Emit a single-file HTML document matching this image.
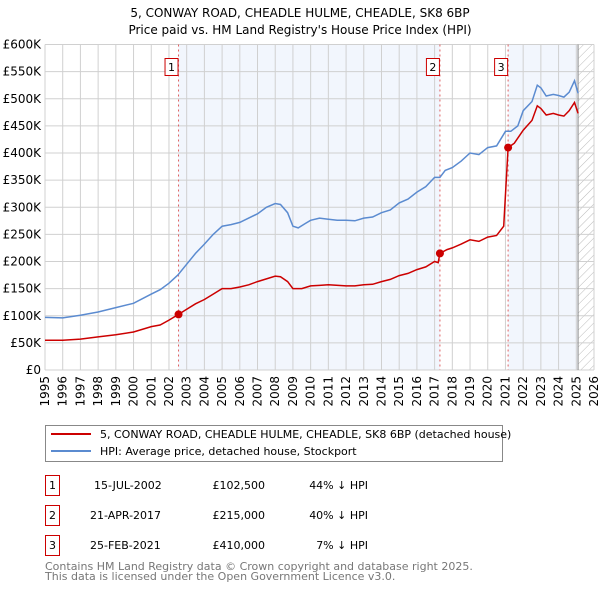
<!DOCTYPE html>
<html><head><meta charset="utf-8"><style>
body{margin:0;background:#fff;font-family:"Liberation Sans","DejaVu Sans",sans-serif;}
</style></head><body>
<svg width="600" height="590" viewBox="0 0 600 590" xmlns="http://www.w3.org/2000/svg" font-family="'DejaVu Sans','Liberation Sans',sans-serif">
<text x="300" y="17" text-anchor="middle" font-size="12">5, CONWAY ROAD, CHEADLE HULME, CHEADLE, SK8 6BP</text>
<text x="300" y="34" text-anchor="middle" font-size="12">Price paid vs. HM Land Registry's House Price Index (HPI)</text>
<g id="plot"></g>
<g>
<rect x="45.5" y="425.5" width="457" height="36" fill="#fff" stroke="#888"/>
<line x1="51" y1="434" x2="91" y2="434" stroke="#cc0000" stroke-width="2"/>
<text x="100" y="438" font-size="11">5, CONWAY ROAD, CHEADLE HULME, CHEADLE, SK8 6BP (detached house)</text>
<line x1="51" y1="451" x2="91" y2="451" stroke="#5b8bd0" stroke-width="2"/>
<text x="100" y="455" font-size="11">HPI: Average price, detached house, Stockport</text>
</g>
<g font-size="11">
<rect x="45.5" y="475.5" width="14" height="20" fill="#fff" stroke="#cc0000"/><text x="52.5" y="489" text-anchor="middle">1</text>
<text x="94" y="489">15-JUL-2002</text><text x="265" y="489" text-anchor="end">£102,500</text><text x="368" y="489" text-anchor="end">44% ↓ HPI</text>
<rect x="45.5" y="505.5" width="14" height="20" fill="#fff" stroke="#cc0000"/><text x="52.5" y="519" text-anchor="middle">2</text>
<text x="90" y="519">21-APR-2017</text><text x="265" y="519" text-anchor="end">£215,000</text><text x="368" y="519" text-anchor="end">40% ↓ HPI</text>
<rect x="45.5" y="535.5" width="14" height="20" fill="#fff" stroke="#cc0000"/><text x="52.5" y="549" text-anchor="middle">3</text>
<text x="90" y="549">25-FEB-2021</text><text x="265" y="549" text-anchor="end">£410,000</text><text x="368" y="549" text-anchor="end">7% ↓ HPI</text>
</g>
<text x="45" y="570" font-size="11" fill="#777">Contains HM Land Registry data © Crown copyright and database right 2025.</text>
<text x="45" y="580" font-size="11" fill="#777">This data is licensed under the Open Government Licence v3.0.</text>
</svg>
<script>
const hpiYears=[1995,1996,1997,1998,1999,2000,2001,2001.5,2002,2002.5,2003,2003.5,2004,2004.5,2005,2005.5,2006,2006.5,2007,2007.5,2008,2008.3,2008.7,2009,2009.3,2009.7,2010,2010.5,2011,2011.5,2012,2012.5,2013,2013.5,2014,2014.5,2015,2015.5,2016,2016.5,2017,2017.3,2017.6,2018,2018.5,2019,2019.5,2020,2020.5,2021,2021.3,2021.7,2022,2022.5,2022.8,2023,2023.3,2023.7,2024,2024.3,2024.6,2024.9,2025.1];
const hpiValues=[97,96,101,107,115,123,140,148,160,175,195,215,232,250,265,268,272,280,288,300,307,305,290,265,262,270,276,280,278,276,276,275,280,282,290,295,308,315,328,338,355,355,368,373,385,400,397,410,413,440,440,450,478,495,525,520,505,508,506,503,512,533,510];
const priceYears=[1995,1996,1997,1998,1999,2000,2001,2001.5,2002,2002.54,2003,2003.5,2004,2004.5,2005,2005.5,2006,2006.5,2007,2007.5,2008,2008.3,2008.7,2009,2009.5,2010,2010.5,2011,2012,2012.5,2013,2013.5,2014,2014.5,2015,2015.5,2016,2016.5,2017,2017.2,2017.3,2017.7,2018,2018.5,2019,2019.5,2020,2020.5,2020.9,2021.15,2021.5,2022,2022.5,2022.8,2023,2023.3,2023.7,2024,2024.3,2024.6,2024.9,2025.1];
const priceValues=[55,55,57,61,65,70,80,83,92,102.5,112,122,130,140,150,150,153,157,163,168,173,172,163,150,150,155,156,157,155,155,157,158,163,167,174,178,185,190,200,198,215,222,225,232,240,237,245,248,265,410,418,442,460,487,482,470,473,470,468,478,493,473];
const saleYears=[2002.54,2017.3,2021.15];
const saleValues=[102.5,215,410];
const saleLabels=["1","2","3"];
const yTicks=[0,50,100,150,200,250,300,350,400,450,500,550,600];
const yTickLabels=["£0","£50K","£100K","£150K","£200K","£250K","£300K","£350K","£400K","£450K","£500K","£550K","£600K"];
const xTicks=[1995,1996,1997,1998,1999,2000,2001,2002,2003,2004,2005,2006,2007,2008,2009,2010,2011,2012,2013,2014,2015,2016,2017,2018,2019,2020,2021,2022,2023,2024,2025,2026];
const dataEnd=2025.1;
const L=45,R=594,T=44.5,B=370;
const X=y=>L+(y-1995)/(2026-1995)*(R-L);
const Y=v=>B-v/600*(B-T);
const NS="http://www.w3.org/2000/svg";
const g=document.getElementById('plot');
function mk(t,a,p){const e=document.createElementNS(NS,t);for(const k in a)e.setAttribute(k,a[k]);(p||g).appendChild(e);return e;}
let s=mk('rect',{x:X(saleYears[0]),y:T,width:X(saleYears[1])-X(saleYears[0]),height:B-T,fill:'#f2f6fd'});


s=mk('rect',{x:X(saleYears[2]),y:T,width:X(dataEnd)-X(saleYears[2]),height:B-T,fill:'#f2f6fd'});


const defs=mk('defs',{});
const pat=mk('pattern',{id:'hatch',width:6,height:6,patternUnits:'userSpaceOnUse',patternTransform:'rotate(45)'},defs);
mk('line',{x1:0,y1:0,x2:0,y2:6,stroke:'#bbb','stroke-width':1},pat);
s=mk('rect',{x:X(dataEnd),y:T,width:R-X(dataEnd),height:B-T,fill:'url(#hatch)'});


yTicks.forEach((v,i)=>{
 const l=mk('line',{x1:L,x2:R,y1:Y(v),y2:Y(v),stroke:'#d0d0d0','stroke-width':1});
 
 
 const t=mk('text',{x:L-4,y:Y(v)+4,'text-anchor':'end','font-size':12});
 t.textContent=yTickLabels[i];
 
 
});
xTicks.forEach(yr=>{
 const l=mk('line',{x1:X(yr),x2:X(yr),y1:T,y2:B,stroke:'#d0d0d0','stroke-width':1});
 
 
 const t=mk('text',{x:0,y:0,'text-anchor':'end','font-size':12,transform:`translate(${X(yr)+4},${B+6}) rotate(-90)`});
 t.textContent=yr;
 
 
});
s=mk('line',{x1:X(dataEnd),x2:X(dataEnd),y1:T,y2:B,stroke:'#888','stroke-width':1});


saleYears.forEach((yr,i)=>{
 const l=mk('line',{x1:X(yr),x2:X(yr),y1:T,y2:B,stroke:'#e06060','stroke-width':1,'stroke-dasharray':'2,3'});
 
 
 const r=mk('rect',{x:X(yr)-13.5,y:58.5,width:13,height:17,fill:'#fff',stroke:'#cc0000'});
 
 
 const t=mk('text',{x:X(yr)-7,y:71,'text-anchor':'middle','font-size':11});
 t.textContent=saleLabels[i];
 
 
});
function path(xs,vs){return xs.map((x,i)=>(i?'L':'M')+X(x).toFixed(1)+','+Y(vs[i]).toFixed(1)).join('');}
let p=mk('path',{d:path(hpiYears,hpiValues),fill:'none',stroke:'#5b8bd0','stroke-width':1.5});


p=mk('path',{d:path(priceYears,priceValues),fill:'none',stroke:'#cc0000','stroke-width':1.5});


saleYears.forEach((yr,i)=>{
 const c=mk('circle',{cx:X(yr),cy:Y(saleValues[i]),r:4,fill:'#cc0000'});
 
 
});
</script>
</body></html>
